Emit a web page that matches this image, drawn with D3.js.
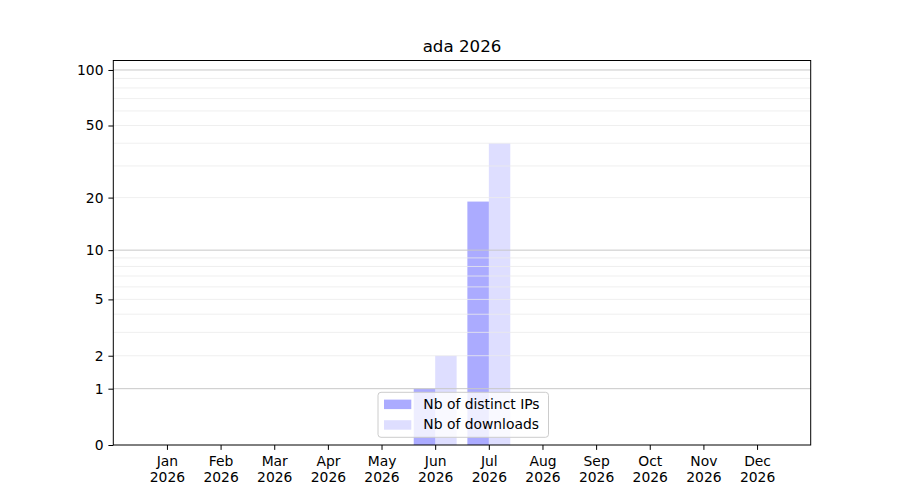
<!DOCTYPE html>
<html>
<head>
<meta charset="utf-8">
<script src="https://cdn.jsdelivr.net/npm/d3@7"></script>
<style>
  body { margin: 0; background: #fff; }
  svg { font-family: "DejaVu Sans", sans-serif; }
</style>
</head>
<body>
<div id="chart"></div>
<script>
// ---- data ----
const title = "ada 2026";
const months = ["Jan","Feb","Mar","Apr","May","Jun","Jul","Aug","Sep","Oct","Nov","Dec"];
const yearLabel = "2026";
const distinctIPs = [0,0,0,0,0,1,19,0,0,0,0,0];
const downloads   = [0,0,0,0,0,2,40,0,0,0,0,0];
const seriesNames = ["Nb of distinct IPs", "Nb of downloads"];
const yTicks = [0,1,2,5,10,20,50,100];
const majorGrid = [1,10,100];
const minorGrid = [2,3,4,5,6,7,8,9,20,30,40,50,60,70,80,90];
const yMax = 112.5;

(function () {
// ---- layout ----
const W = 900, H = 500;
const mLeft = 113.3, mRight = 810.7, mTop = 60.5, mBottom = 445;
const fs = "13.89px";

const svg = d3.select("#chart").append("svg")
  .attr("width", W).attr("height", H);

const x = d3.scaleLinear().domain([-1, 12]).range([mLeft, mRight]);
const y = d3.scaleSymlog().constant(1).domain([0, yMax]).range([mBottom, mTop]);
const barW = x(0.4) - x(0);

// bars
const g = svg.append("g");
g.selectAll("rect.ip").data(distinctIPs).join("rect")
  .attr("class", "ip")
  .attr("x", (d, i) => x(i - 0.4))
  .attr("width", barW)
  .attr("y", d => y(d))
  .attr("height", d => y(0) - y(d))
  .attr("fill", "#0000ff").attr("fill-opacity", 0.33);
g.selectAll("rect.dl").data(downloads).join("rect")
  .attr("class", "dl")
  .attr("x", (d, i) => x(i))
  .attr("width", barW)
  .attr("y", d => y(d))
  .attr("height", d => y(0) - y(d))
  .attr("fill", "#0000ff").attr("fill-opacity", 0.13);

// grid (drawn above bars, like matplotlib default)
svg.append("g").selectAll("line").data(minorGrid).join("line")
  .attr("x1", mLeft).attr("x2", mRight)
  .attr("y1", d => y(d)).attr("y2", d => y(d))
  .attr("stroke", "#ebebeb").attr("stroke-width", 0.8);
svg.append("g").selectAll("line").data(majorGrid).join("line")
  .attr("x1", mLeft).attr("x2", mRight)
  .attr("y1", d => y(d)).attr("y2", d => y(d))
  .attr("stroke", "#c8c8c8").attr("stroke-width", 1);

// y axis
const yAxis = d3.axisLeft(y).tickValues(yTicks).tickFormat(d3.format("d"))
  .tickSize(4.9).tickPadding(4.9);
const ya = svg.append("g").attr("transform", `translate(${mLeft},0)`).call(yAxis);
ya.select(".domain").remove();
ya.selectAll("text").attr("font-size", fs).attr("fill", "#000")
  .attr("font-family", "DejaVu Sans");
ya.selectAll("line").attr("stroke", "#000").attr("stroke-width", 1);

// x axis
const xAxis = d3.axisBottom(x).tickValues(d3.range(months.length))
  .tickSize(4.9).tickFormat("");
const xa = svg.append("g").attr("transform", `translate(0,${mBottom})`).call(xAxis);
xa.select(".domain").remove();
xa.selectAll("line").attr("stroke", "#000").attr("stroke-width", 1);
xa.selectAll(".tick").append("text")
  .attr("text-anchor", "middle").attr("fill", "#000")
  .attr("font-size", fs).attr("font-family", "DejaVu Sans")
  .each(function(d, i) {
    const t = d3.select(this);
    t.append("tspan").attr("x", 0).attr("y", 21.2).text(months[i]);
    t.append("tspan").attr("x", 0).attr("y", 37.4).text(yearLabel);
  });

// spines
svg.append("rect")
  .attr("x", mLeft).attr("y", mTop)
  .attr("width", mRight - mLeft).attr("height", mBottom - mTop)
  .attr("fill", "none").attr("stroke", "#000").attr("stroke-width", 1);

// title
svg.append("text")
  .attr("x", (mLeft + mRight) / 2).attr("y", 52)
  .attr("text-anchor", "middle").attr("font-size", "16.67px")
  .attr("fill", "#000").text(title);

// legend
const lg = svg.append("g").attr("transform", "translate(378,392.3)");
lg.append("rect").attr("width", 170.5).attr("height", 45).attr("rx", 3)
  .attr("fill", "#fff").attr("fill-opacity", 0.8)
  .attr("stroke", "#cccccc").attr("stroke-width", 1);
const opac = [0.33, 0.13];
seriesNames.forEach((name, i) => {
  lg.append("rect").attr("x", 6).attr("y", 7.3 + i * 20.6)
    .attr("width", 27.3).attr("height", 9.5)
    .attr("fill", "#0000ff").attr("fill-opacity", opac[i]);
  lg.append("text").attr("x", 45.3).attr("y", 16.6 + i * 20.6)
    .attr("font-size", fs).attr("fill", "#000").text(name);
});
})();
</script>
</body>
</html>
